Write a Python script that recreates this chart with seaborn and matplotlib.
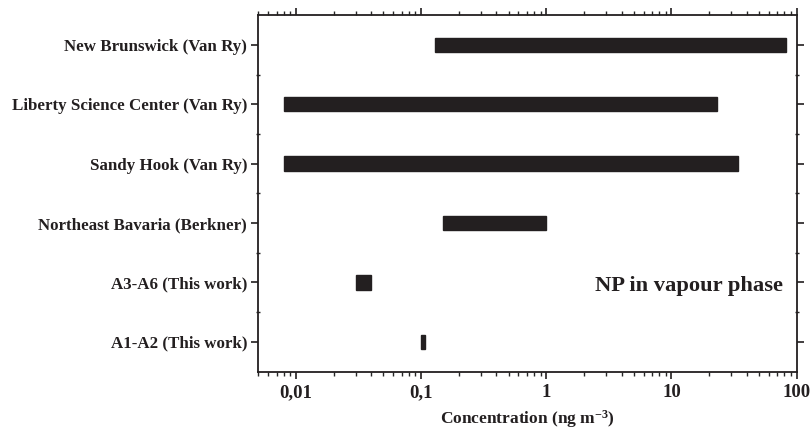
import matplotlib
matplotlib.use("Agg")
import matplotlib.pyplot as plt
import matplotlib.ticker as mticker
import numpy as np
import pandas as pd
import seaborn as sns

# range of NP concentrations per site (ng m-3)
sites = ["New Brunswick (Van Ry)", "Liberty Science Center (Van Ry)",
         "Sandy Hook (Van Ry)", "Northeast Bavaria (Berkner)",
         "A3-A6 (This work)", "A1-A2 (This work)"]
lo = [0.13, 0.008, 0.008, 0.15, 0.03, 0.1]
hi = [82.0, 23.0, 34.0, 1.0, 0.04, 0.108]
xticks = [0.01, 0.1, 1, 10, 100]
xticklabels = ["0,01", "0,1", "1", "10", "100"]

df = pd.DataFrame({"site": sites, "lo": lo, "hi": hi})

INK = "#231f20"

sns.set_theme(style="ticks")
plt.rcParams["font.family"] = ["Liberation Serif", "DejaVu Serif"]
plt.rcParams["font.weight"] = "bold"
plt.rcParams["mathtext.fontset"] = "custom"
plt.rcParams["mathtext.rm"] = "Liberation Serif:bold"
plt.rcParams["mathtext.default"] = "rm"

fig, ax = plt.subplots(figsize=(8.12, 4.32), dpi=100)
fig.subplots_adjust(left=0.318, right=0.981, top=0.965, bottom=0.14)

ypos = np.arange(len(df))
ax.barh(ypos, df["hi"] - df["lo"], left=df["lo"], height=0.24,
        color=INK, edgecolor=INK)

ax.set_xscale("log")
ax.set_xlim(0.005, 100)
ax.set_ylim(len(df) - 0.5, -0.5)
ax.xaxis.set_major_locator(mticker.FixedLocator(xticks))
ax.xaxis.set_major_formatter(mticker.FixedFormatter(xticklabels))
ax.xaxis.set_minor_locator(mticker.LogLocator(base=10, subs=np.arange(2, 10)))
ax.xaxis.set_minor_formatter(mticker.NullFormatter())
ax.set_yticks(ypos)
ax.set_yticklabels(df["site"])
ax.set_yticks(ypos[:-1] + 0.5, minor=True)

for s in ax.spines.values():
    s.set_linewidth(1.3)
    s.set_color(INK)
ax.tick_params(axis="both", which="major", colors=INK,
               width=1.2, length=5, top=True, right=True)
ax.tick_params(axis="x", which="major", labelsize=13.5, direction="out", pad=4)
ax.tick_params(axis="y", which="major", labelsize=12.2, direction="out", pad=3)
ax.tick_params(axis="x", which="minor", length=3, width=1, top=True, direction="out")
ax.tick_params(axis="y", which="minor", length=2.5, width=1, direction="inout", right=True)
for lab in ax.get_xticklabels() + ax.get_yticklabels():
    lab.set_fontweight("bold")

ax.set_xlabel("Concentration (ng m$^{-3}$)", fontsize=12.5,
              fontweight="bold", color=INK, labelpad=5)
ax.set_ylabel("")
ax.text(0.974, 0.24, "NP in vapour phase", transform=ax.transAxes,
        ha="right", va="center", fontsize=16.2, fontweight="bold", color=INK)

fig.savefig("out.png", dpi=100, facecolor="white")
